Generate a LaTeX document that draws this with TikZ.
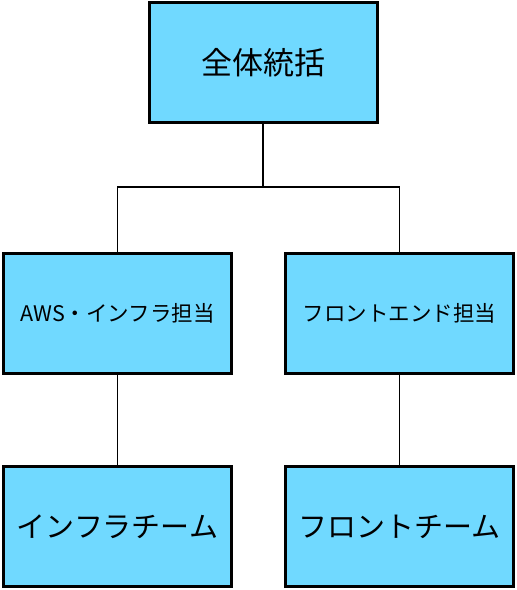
\documentclass[tikz,border=0pt]{standalone}
\usepackage{fontspec}
\setmainfont{Noto Sans CJK JP}
\usepackage{tikz}
\usetikzlibrary{positioning,calc}
\definecolor{boxblue}{HTML}{70D9FF}

\begin{document}
\begin{tikzpicture}[
    x=1pt, y=-1pt,
    role/.style = {rectangle, draw, line width=3pt, fill=boxblue, minimum width=228pt, minimum height=120pt, inner sep=0pt, align=center},
    link/.style = {draw, line width=1.5pt}
]
    \useasboundingbox (0,0) rectangle (517,590);

    % Top level
    \node[role, font=\fontsize{31}{36}\selectfont] (lead) at (263,62.5) {全体統括};

    % Second level
    \node[role, font=\fontsize{21.5}{26}\selectfont] (aws) at (117.5,313.5) {AWS・インフラ担当};
    \node[role, font=\fontsize{21.5}{26}\selectfont] (front) at (399.5,313.5) {フロントエンド担当};

    % Teams
    \node[role, font=\fontsize{29}{34}\selectfont] (infrateam) at (117.5,526.5) {インフラチーム};
    \node[role, font=\fontsize{29}{34}\selectfont] (frontteam) at (399.5,526.5) {フロントチーム};

    % Branch point under the top box
    \coordinate (split) at (263,187);

    % Connectors
    \draw[link] (lead) -- (split);
    \draw[link] (split) -| (aws);
    \draw[link] (split) -| (front);
    \draw[link] (aws) -- (infrateam);
    \draw[link] (front) -- (frontteam);

\end{tikzpicture}
\end{document}
